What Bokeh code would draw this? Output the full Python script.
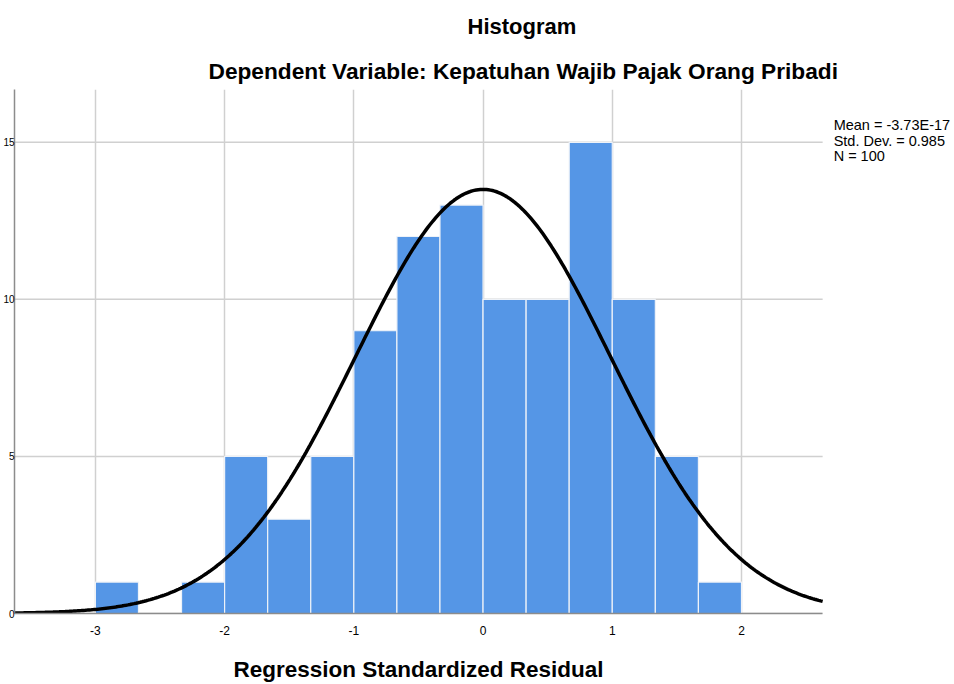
import numpy as np
from bokeh.plotting import figure
from bokeh.models import Title, Range1d, FixedTicker, GlobalInlineStyleSheet
from bokeh.core.properties import value
from bokeh.embed import file_html
from bokeh.resources import INLINE

# ---- data ----
counts = [1, 0, 1, 5, 3, 5, 9, 12, 13, 10, 10, 15, 10, 5, 1]
bin_start = -3.0
bin_width = 1.0 / 3.0
mean_val = -3.73e-17
std_val = 0.985
n_val = 100
x_ticks = [-3, -2, -1, 0, 1, 2]
x_tick_labels = ["-3", "-2", "-1", "0", "1", "2"]
y_ticks = [0, 5, 10, 15]
stats_lines = ["Mean = -3.73E-17", "Std. Dev. = 0.985", "N = 100"]

FONT = "Liberation Sans"

lefts = [bin_start + i * bin_width for i in range(len(counts))]
rights = [l + bin_width for l in lefts]

# plotting area of the histogram (data units) and page geometry
x_lo, x_hi = -3.626, 2.628
y_lo, y_hi = 0, 16.68
W = 954
LEFT, TOP, BOTTOM = 13, 88, 92
H = 613 + BOTTOM
PLOT_W = 809                       # pixel width of the histogram area
FRAME_W = W - LEFT
FRAME_H = H - TOP - BOTTOM
ux = (x_hi - x_lo) / PLOT_W        # data units per pixel
uy = (y_hi - y_lo) / FRAME_H
x_frame_hi = x_lo + FRAME_W * ux   # frame extends right to hold the statistics text

p = figure(width=W, height=H, output_backend="svg", toolbar_location=None,
           x_range=Range1d(x_lo, x_frame_hi), y_range=Range1d(y_lo, y_hi),
           title="Histogram",
           min_border_left=LEFT, min_border_right=0, min_border_top=TOP, min_border_bottom=BOTTOM)

p.title.text_font = FONT
p.title.text_font_size = "22px"
p.title.text_font_style = "bold"
p.title.text_color = "black"
p.title.align = "left"
p.title.offset = 453
p.title.standoff = 22

sub = Title(text="Dependent Variable: Kepatuhan Wajib Pajak Orang Pribadi",
            text_font=FONT, text_font_size="22.7px", text_font_style="bold",
            text_color="black", align="left", offset=194, standoff=12)
p.add_layout(sub, "above")

xlabel = Title(text="Regression Standardized Residual",
               text_font=FONT, text_font_size="22.5px", text_font_style="bold",
               text_color="black", align="left", offset=219, standoff=35)
p.add_layout(xlabel, "below")

p.outline_line_color = None
p.background_fill_color = "white"
p.border_fill_color = "white"

GRID = "#d0d0d0"
# vertical grid lines
p.xgrid.ticker = FixedTicker(ticks=x_ticks)
p.xgrid.grid_line_color = GRID
p.xgrid.grid_line_width = 1.5
# horizontal grid lines only across the histogram area
p.ygrid.visible = False
p.segment(x0=[x_lo] * len(y_ticks), x1=[x_hi] * len(y_ticks), y0=y_ticks, y1=y_ticks,
          line_color=GRID, line_width=1.5)

# axes
p.xaxis.ticker = FixedTicker(ticks=x_ticks)
p.yaxis.ticker = FixedTicker(ticks=y_ticks)
p.xaxis.bounds = (x_lo, x_hi)
p.xaxis.major_label_overrides = dict(zip(x_ticks, x_tick_labels))
for ax in (p.xaxis[0], p.yaxis[0]):
    ax.axis_line_color = "#8c8c8c"
    ax.axis_line_width = 1.5
    ax.major_tick_line_color = None
    ax.minor_tick_line_color = None
    ax.major_tick_out = 0
    ax.major_tick_in = 0
    ax.minor_tick_out = 0
    ax.minor_tick_in = 0
    ax.major_label_text_font = FONT
    ax.major_label_text_color = "black"
p.xaxis.major_label_text_font_size = "12px"
p.yaxis.major_label_text_font_size = "10px"
p.xaxis.major_label_standoff = 12
p.yaxis.major_label_standoff = 0

# bars
p.quad(left=lefts, right=rights, bottom=0, top=counts,
       fill_color="#5596e6", line_color="#eef2f8", line_width=1.2)

# fitted normal curve
xs = np.linspace(x_lo, x_hi, 400)
ys = n_val * bin_width * np.exp(-0.5 * ((xs - mean_val) / std_val) ** 2) / (std_val * np.sqrt(2 * np.pi))
p.line(xs, ys, line_color="black", line_width=3.5)

# statistics text to the right of the histogram
tx = x_hi + 11 * ux
ty = [y_hi - (d - TOP) * uy for d in (124, 139.5, 155)]
p.text(x=[tx] * 3, y=ty, text=stats_lines,
       text_font_size="14.5px", text_color="black",
       text_baseline="middle", text_align="left",
       text_font=value(FONT))

p.stylesheets.append(GlobalInlineStyleSheet(css="body{margin:0 !important;overflow:hidden;}"))

open("out.html", "w").write(file_html(p, INLINE))
